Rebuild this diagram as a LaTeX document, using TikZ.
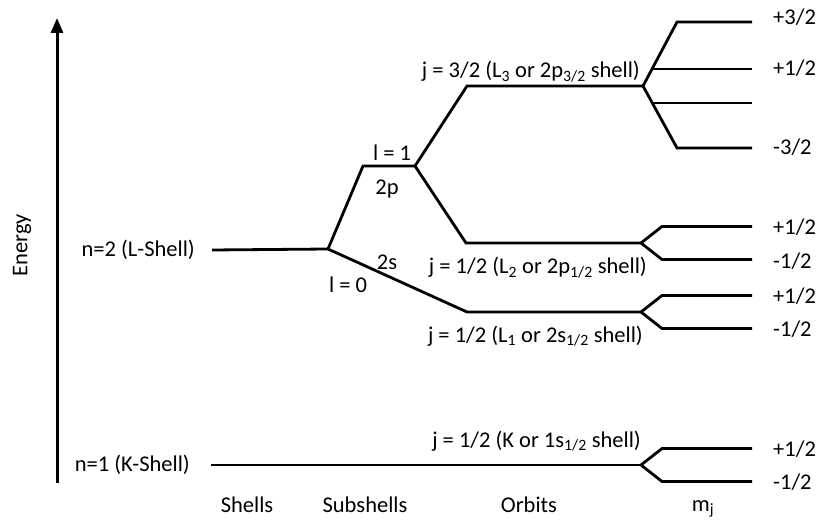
\documentclass[tikz,border=0pt]{standalone}
\usepackage{fontspec}
\setmainfont{Carlito}
\usetikzlibrary{arrows.meta,positioning}

\begin{document}
\begin{tikzpicture}[x=1pt,y=-1pt]
  \tikzset{level/.style = {line width=2.8pt, line join=miter}}
  \tikzset{lbl/.style = {inner sep=1pt, font=\fontsize{22.5}{26}\selectfont}}
  \tikzset{mjlbl/.style = {lbl, anchor=west}}
  \tikzset{%
  tipE/.tip={Triangle[length=15pt,width=12pt]},
}
  \useasboundingbox (0,0) rectangle (818,521);

	% energy axis
	\coordinate (E0) at (57,483);
	\coordinate (E1) at (57,18);
	\draw[line width=3pt,-tipE] (E0) -- (E1);
	\node[lbl,rotate=90] (energy) at (22,245) {Energy};

	% shells
	\coordinate (n2) at (212,250);
	\coordinate (s2) at (328,249);
	\coordinate (n1) at (211,465);

	% subshells
	\coordinate (p2a) at (363,166);
	\coordinate (p2b) at (415,166);

	% orbits
	\coordinate (L3a) at (467,86);
	\coordinate (L3b) at (643,86);
	\coordinate (L2a) at (466,243);
	\coordinate (L2b) at (641,243);
	\coordinate (L1a) at (467,312);
	\coordinate (L1b) at (641,312);
	\coordinate (Kb) at (641,465);

	\draw[level] (n2) -- (s2) -- (p2a) -- (p2b) -- (L3a) -- (L3b);
	\draw[level] (p2b) -- (L2a) -- (L2b);
	\draw[level] (s2) -- (L1a) -- (L1b);
	\draw[level] (n1) -- (Kb);

	% m_j levels
	\coordinate (m1) at (677,22);
	\coordinate (m4) at (677,148);
	\draw[level] (L3b) -- (m1) -- (752,22);
	\draw[level] (L3b) -- (m4) -- (752,148);
	\foreach \y in {69,103}
	\draw[level] (653,\y) -- (752,\y);

	\foreach \o/\y in {L2b/243, L1b/312, Kb/465}{
	\draw[level] (\o) -- (662,\y-16.5) -- (752,\y-16.5);
	\draw[level] (\o) -- (662,\y+16.5) -- (752,\y+16.5);
	}

	% labels
	\node[lbl,anchor=east] (n2lbl) at (196,250) {n=2 (L-Shell)};
	\node[lbl,anchor=east] (n1lbl) at (191,465) {n=1 (K-Shell)};
	\node[lbl] (l1) at (392,153) {l = 1};
	\node[lbl] (p2) at (387,189) {2p};
	\node[lbl] (s2lbl) at (387,262) {2s};
	\node[lbl] (l0) at (348,285) {l = 0};
	\node[lbl,anchor=east] (L3lbl) at (641,72) {j = 3/2 (L\textsubscript{3} or 2p\textsubscript{3/2} shell)};
	\node[lbl,anchor=east] (L2lbl) at (648,268) {j = 1/2 (L\textsubscript{2} or 2p\textsubscript{1/2} shell)};
	\node[lbl,anchor=east] (L1lbl) at (644,336) {j = 1/2 (L\textsubscript{1} or 2s\textsubscript{1/2} shell)};
	\node[lbl,anchor=east] (Klbl) at (642,441) {j = 1/2 (K or 1s\textsubscript{1/2} shell)};

	\foreach \y/\t in {17/{+3/2}, 68/{+1/2}, 147/{-3/2}, 227/{+1/2}, 261/{-1/2}, 296/{+1/2}, 329/{-1/2}, 449/{+1/2}, 482/{-1/2}}
	\node[mjlbl] at (772,\y) {\t};

	\node[lbl] (shells) at (247,505) {Shells};
	\node[lbl] (subshells) at (365,505) {Subshells};
	\node[lbl] (orbits) at (529,505) {Orbits};
	\node[lbl,anchor=base] (mj) at (703,511) {m\textsubscript{j}};

\end{tikzpicture}
\end{document}
